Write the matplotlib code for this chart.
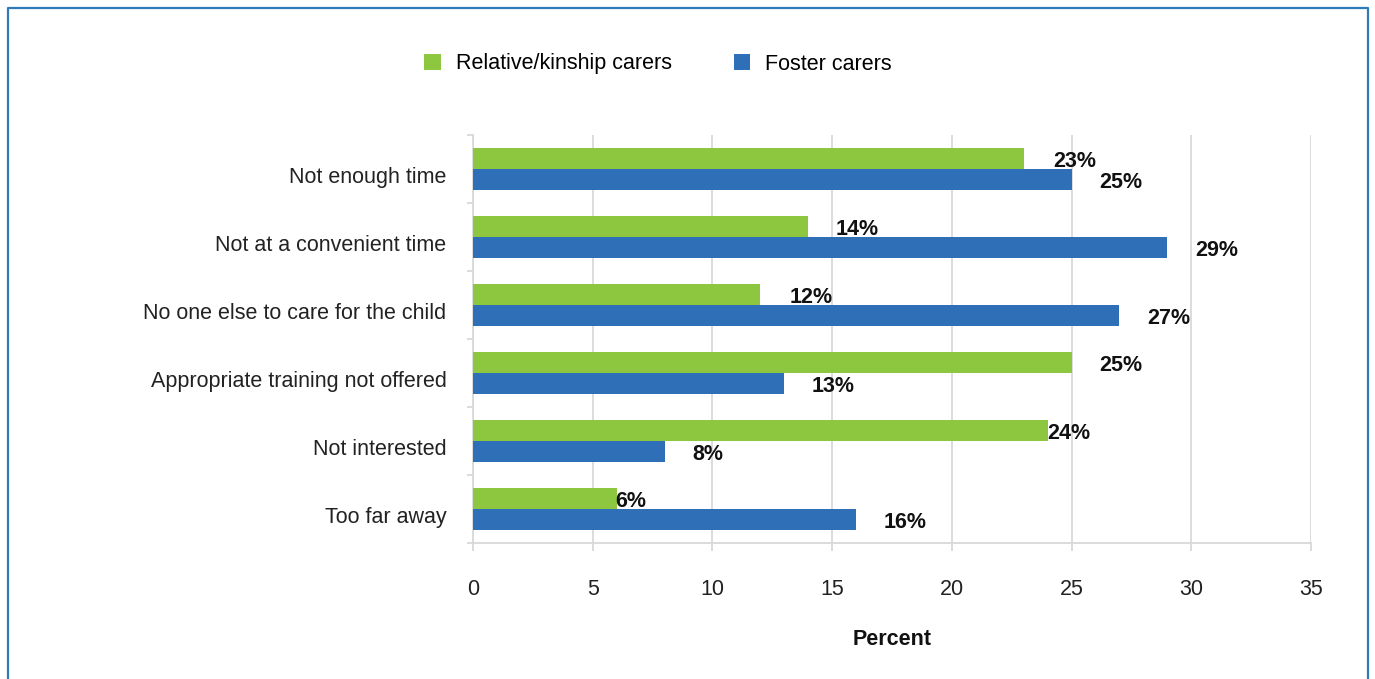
import numpy as np
import matplotlib
matplotlib.use("Agg")
import matplotlib.pyplot as plt
from matplotlib.patches import Patch
from matplotlib.lines import Line2D

plt.rcParams['font.family'] = ['Liberation Sans', 'DejaVu Sans']

categories = ["Not enough time", "Not at a convenient time",
              "No one else to care for the child", "Appropriate training not offered",
              "Not interested", "Too far away"]
kinship = [23, 14, 12, 25, 24, 6]
foster = [25, 29, 27, 13, 8, 16]
series_names = ["Relative/kinship carers", "Foster carers"]
x_ticks = [0, 5, 10, 15, 20, 25, 30, 35]

green = "#8dc63f"
blue = "#2e6fb7"
grid_col = "#d9d9d9"
fs = 15.5

fig = plt.figure(figsize=(13.75, 6.79), dpi=100)
ax = fig.add_axes([473/1375, 1 - 543/679, (1311 - 473)/1375, (543 - 135)/679])

y = np.arange(len(categories))
h = 0.31
b1 = ax.barh(y - h/2, kinship, height=h, color=green, zorder=3)
b2 = ax.barh(y + h/2, foster, height=h, color=blue, zorder=3)

# label offsets in points (two labels in the original sit right at the bar end)
off_k = [21, 20, 21, 20, 0, -1]
off_f = [20, 20, 20, 20, 20, 20]
for bars, vals, offs in ((b1, kinship, off_k), (b2, foster, off_f)):
    for rect, v, o in zip(bars, vals, offs):
        ax.annotate(f"{v}%", (rect.get_width(), rect.get_y() + rect.get_height()/2),
                    xytext=(o, -2.2), textcoords="offset points", ha="left", va="center",
                    fontsize=fs, fontweight="bold", color="#111111", zorder=4)

ax.set_xlim(0, 35)
ax.set_ylim(len(categories) - 0.5, -0.5)
ax.set_xticks(x_ticks)
ax.set_xticklabels([str(t) for t in x_ticks], fontsize=fs, color="#222222")
# category labels sit a little below the group centre in the original
# (major ticks are invisible, so nudge them down)
ax.set_yticks(y + 0.09)
ax.set_yticklabels(categories, fontsize=fs, color="#222222")
ax.set_yticks(np.arange(len(categories) + 1) - 0.5, minor=True)

ax.tick_params(axis="y", which="major", length=0, pad=19)
ax.tick_params(axis="y", which="minor", length=4, width=1.3, color=grid_col)
ax.tick_params(axis="x", which="major", length=6, width=1.3, color=grid_col, pad=20)

ax.grid(axis="x", color=grid_col, linewidth=1.3, zorder=0)
for s in ("top", "right"):
    ax.spines[s].set_visible(False)
for s in ("left", "bottom"):
    ax.spines[s].set_color(grid_col)
    ax.spines[s].set_linewidth(1.3)

ax.set_xlabel("Percent", fontsize=fs, fontweight="bold", labelpad=21, color="#111111")

handles = [Patch(facecolor=green), Patch(facecolor=blue)]
fig.legend(handles, series_names, loc="center left", bbox_to_anchor=(405/1375, 1 - 64/679),
           ncol=2, frameon=False, fontsize=fs, handlelength=0.77, handleheight=0.77,
           handletextpad=0.68, columnspacing=2.88)

# outer blue frame (bottom edge cut off in the original)
frame_col = "#2f7ab8"
W, H = 1375, 679
fx = [8/W, 8/W, 1368/W, 1368/W]
fy = [0, 1 - 8/H, 1 - 8/H, 0]
fig.add_artist(Line2D(fx, fy, color=frame_col, linewidth=1.6, transform=fig.transFigure))

fig.savefig("out.png", dpi=100)
